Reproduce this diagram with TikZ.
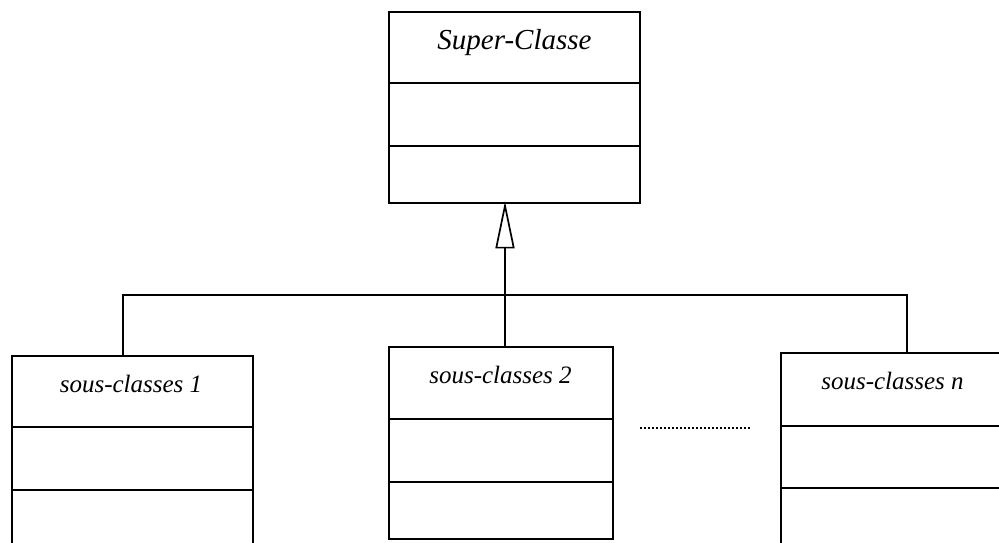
\documentclass[tikz,border=0pt]{standalone}
\usepackage{fontspec}
\setmainfont{Liberation Serif}
\usetikzlibrary{arrows.meta}
\begin{document}
\begin{tikzpicture}[x=1pt,y=-1pt,line width=1.9pt,
  classbox/.style={draw,rectangle,inner sep=0pt},
  supertext/.style={anchor=base,inner sep=0pt,font=\fontsize{29}{34}\selectfont\itshape},
  subtext/.style={anchor=base,inner sep=0pt,font=\fontsize{25}{30}\selectfont\itshape},
  inherit/.style={-{Triangle[open,length=47pt,width=19pt,fill=white,line width=1.7pt]},shorten >=-2.5pt}]
\useasboundingbox (0,0) rectangle (999,542);
\begin{scope}
\clip (0,0) rectangle (999,542);
% super class
\node[classbox,minimum width=251pt,minimum height=191pt] (sup) at (514.5,107.5) {};
\draw (389,83) -- (640,83);
\draw (389,146) -- (640,146);
\node[supertext] (supt) at (514.5,49) {Super-Classe};
% sub class 1
\node[classbox,minimum width=241pt,minimum height=192pt] (s1) at (132.5,452) {};
\draw (12,427) -- (253,427);
\draw (12,490) -- (253,490);
\node[subtext] (s1t) at (131,392) {sous-classes 1};
% sub class 2
\node[classbox,minimum width=224pt,minimum height=192pt] (s2) at (501,443) {};
\draw (389,419) -- (613,419);
\draw (389,482) -- (613,482);
\node[subtext] (s2t) at (500.5,383) {sous-classes 2};
% sub class n
\node[classbox,minimum width=222pt,minimum height=192pt] (sn) at (892,449) {};
\draw (781,426) -- (1003,426);
\draw (781,488) -- (1003,488);
\node[subtext] (snt) at (892.5,389) {sous-classes n};
% dots
\draw[line width=1.8pt,dash pattern=on 1.8pt off 2.2pt] (640,428) -- (750,428);
% connectors
\coordinate (j1) at (123,295);
\coordinate (j2) at (505,295);
\coordinate (jn) at (907,295);
\draw (j1 |- s1.north) -- (j1) -- (jn) -- (jn |- sn.north);
\draw[inherit] (j2 |- s2.north) -- (j2 |- sup.south);
\end{scope}
\end{tikzpicture}
\end{document}
